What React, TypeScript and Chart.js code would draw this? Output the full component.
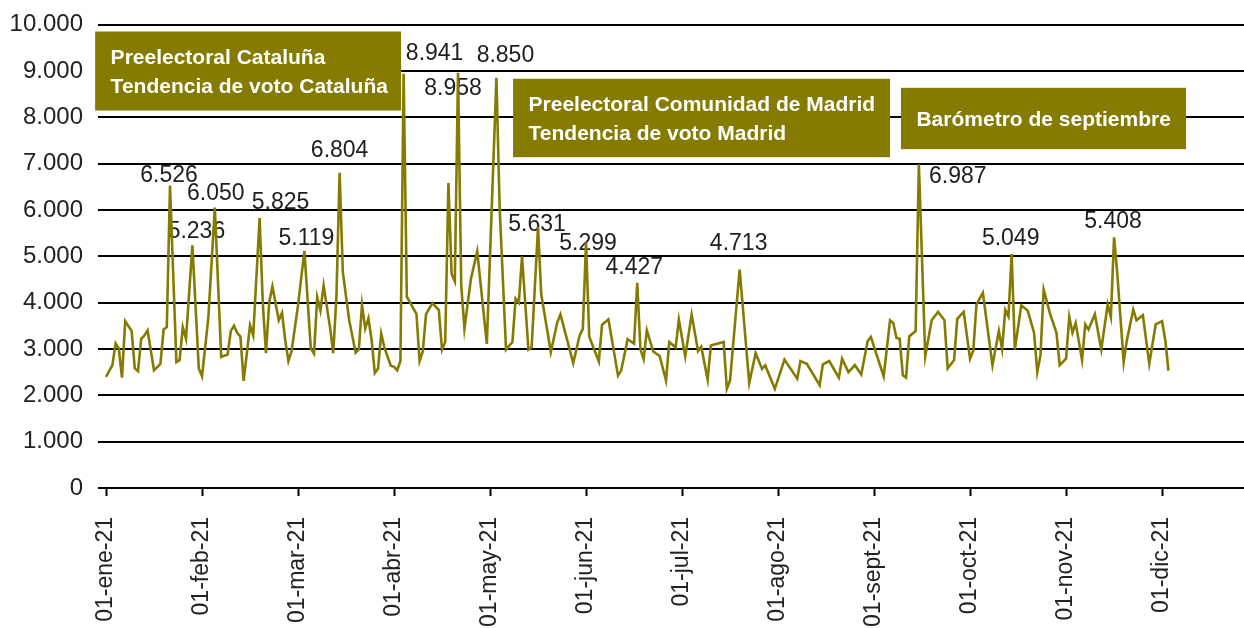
import { useEffect, useRef } from "react";
import { Chart, registerables } from "chart.js";

Chart.register(...registerables);

// ---------- data ----------
const MONTH_LABELS = [
  "01-ene-21", "01-feb-21", "01-mar-21", "01-abr-21", "01-may-21", "01-jun-21",
  "01-jul-21", "01-ago-21", "01-sept-21", "01-oct-21", "01-nov-21", "01-dic-21",
];
const DAYS_PER_MONTH = 30;

const DAYS = [
  0, 2, 3, 4, 5, 6, 8, 9, 10, 11, 12, 13, 15, 17, 18, 19, 20, 22, 23, 24, 25, 27, 29,
  30, 31, 32, 34, 36, 38, 39, 40, 41, 42, 43, 44, 45, 46, 48, 49, 50, 51, 52, 54, 55, 56, 57, 58,
  60, 62, 64, 65, 66, 67, 68, 70, 71, 72, 73, 74, 76, 78, 79, 80, 81, 82, 83, 84, 85, 86, 87, 89,
  90, 91, 92, 93, 94, 97, 98, 99, 100, 102, 104, 105, 106, 107, 108, 109, 110, 111, 112, 114, 116, 119,
  122, 123, 125, 127, 128, 129, 130, 132, 133, 135, 136, 139, 141, 142, 146, 148, 149,
  150, 151, 154, 155, 157, 160, 161, 163, 165, 166, 167, 168, 169, 171, 173, 175, 176, 178, 179,
  181, 183, 185, 186, 188, 189, 193, 194, 195, 198, 201, 203, 205, 206, 209,
  212, 216, 217, 219, 223, 224, 226, 229, 230, 232, 234, 236, 238, 239,
  243, 245, 246, 247, 248, 249, 250, 251, 253, 254, 256, 258, 260, 262, 263, 265, 266, 268,
  270, 271, 272, 274, 277, 279, 280, 281, 282, 283, 284, 286, 288, 290, 291, 292, 293, 295, 297, 298,
  300, 301, 302, 303, 305, 306, 307, 309, 311, 313, 314, 315, 316, 318, 319, 321, 322, 324, 326, 328,
  330, 331, 332,
];

const VISITS = [
  2400, 2650, 3120, 3010, 2380, 3600, 3390, 2580, 2520, 3220, 3290, 3400, 2540, 2680, 3420, 3470, 6526, 2720, 2760, 3470, 3220, 5236, 2580,
  2410, 3040, 3700, 6050, 2830, 2880, 3390, 3500, 3350, 3270, 2310, 2900, 3510, 3290, 5825, 3980, 2910, 4010, 4350, 3620, 3780, 3190, 2740, 2960,
  3940, 5119, 3010, 2900, 4120, 3830, 4370, 3470, 2910, 4120, 6804, 4660, 3620, 2920, 2990, 3950, 3440, 3660, 3190, 2480, 2580, 3330, 3030, 2640,
  2615, 2540, 2740, 8941, 4130, 3760, 2740, 2950, 3750, 3990, 3840, 2985, 3150, 6580, 4620, 4460, 8958, 4380, 3440, 4500, 5110, 3110,
  8850, 6060, 2985, 3150, 4085, 4000, 5000, 2985, 3035, 5631, 4180, 2935, 3570, 3745, 2695, 3290, 3435,
  5299, 3265, 2730, 3525, 3640, 2425, 2540, 3210, 3115, 4427, 2995, 2780, 3400, 2945, 2850, 2320, 3150, 3035, 3635,
  2840, 3745, 2955, 3050, 2340, 3075, 3150, 2140, 2320, 4713, 2265, 2910, 2570, 2645, 2140,
  2770, 2360, 2740, 2680, 2220, 2670, 2740, 2380, 2790, 2500, 2650, 2450, 3170, 3260,
  2410, 3620, 3560, 3240, 3220, 2430, 2380, 3270, 3390, 6987, 2840, 3620, 3800, 3620, 2580, 2760, 3650, 3800,
  2790, 2960, 3960, 4210, 2650, 3390, 3000, 3840, 3700, 5049, 2990, 3940, 3830, 3350, 2500, 2860, 4280, 3760, 3350, 2650,
  2790, 3690, 3350, 3560, 2760, 3530, 3420, 3750, 2990, 3960, 3690, 5408, 4630, 2720, 3190, 3850, 3620, 3730, 2680, 3530,
  3600, 3190, 2530,
];

// days whose value is written next to the peak
const PEAK_DAYS = [20, 27, 34, 48, 62, 73, 93, 110, 122, 135, 150, 166, 198, 254, 283, 315];

const ANNOTATION_TEXTS = [
  ["Preelectoral Cataluña", "Tendencia de voto Cataluña"],
  ["Preelectoral Comunidad de Madrid", "Tendencia de voto Madrid"],
  ["Barómetro de septiembre"],
];

// ---------- styles / layout ----------
const FONT = "'Liberation Sans', Arial, Helvetica, sans-serif";
const OLIVE = "#857b00";
const TEXT = "#222222";
const X_RANGE = { min: -2.5, max: 355.6 };
// label centre offsets (px) relative to the peak point
const PEAK_LABEL_OFFSETS = [
  [-1, -12], [4, -16], [1, -15.5], [21, -17.5], [2, -14.5], [0, -24], [31, -22], [-5, 14],
  [9, -24], [-1, -4], [2, -1], [-3, -17], [-1, -28], [39, 11], [-1, -17.5], [-1, -18],
];
// annotation boxes in axis units: [xFrom, xTo, yTop, yBottom]
const ANNOTATION_BOXES = [
  [-3.4, 92.2, 9851, 8145],
  [127.2, 245, 8831, 7139],
  [248.4, 337.5, 8636, 7312],
];

const fmt = (v: number) => String(Math.round(v)).replace(/\B(?=(\d{3})+(?!\d))/g, ".");

const overlayPlugin = {
  id: "overlay",
  beforeDatasetsDraw(chart: any) {
    const { ctx, scales } = chart;
    const x = scales.x;
    const y = scales.y;
    ctx.save();
    const size = 23;
    ctx.font = `${size}px ${FONT}`;
    ctx.fillStyle = "#1e1e1e";
    ctx.textAlign = "center";
    ctx.textBaseline = "alphabetic";
    PEAK_DAYS.forEach((d, i) => {
      const idx = DAYS.indexOf(d);
      const v = VISITS[idx];
      const [dx, dy] = PEAK_LABEL_OFFSETS[i];
      const px = x.getPixelForValue(d) + dx;
      const py = y.getPixelForValue(v) + dy + size * 0.358;
      ctx.fillText(fmt(v), px, py);
    });
    ctx.restore();
  },
  afterDatasetsDraw(chart: any) {
    const { ctx, scales } = chart;
    const x = scales.x;
    const y = scales.y;
    ctx.save();
    const size = 21;
    ctx.font = `bold ${size}px ${FONT}`;
    ctx.textAlign = "left";
    ctx.textBaseline = "alphabetic";
    ANNOTATION_BOXES.forEach((b, i) => {
      const x0 = x.getPixelForValue(b[0]);
      const x1 = x.getPixelForValue(b[1]);
      const y0 = y.getPixelForValue(b[2]);
      const y1 = y.getPixelForValue(b[3]);
      ctx.fillStyle = OLIVE;
      ctx.fillRect(x0, y0, x1 - x0, y1 - y0);
      ctx.fillStyle = "#ffffff";
      const lines = ANNOTATION_TEXTS[i];
      const cy = (y0 + y1) / 2;
      const lh = 28.6;
      lines.forEach((t, j) => {
        const ly = cy + (j - (lines.length - 1) / 2) * lh + size * 0.358;
        ctx.fillText(t, x0 + 15.5, ly);
      });
    });
    ctx.restore();
  },
};

export default function App() {
  const canvasRef = useRef<HTMLCanvasElement | null>(null);

  useEffect(() => {
    if (!canvasRef.current) return;
    const chart = new Chart(canvasRef.current, {
      type: "line",
      data: {
        datasets: [
          {
            data: DAYS.map((d, i) => ({ x: d, y: VISITS[i] })),
            borderColor: OLIVE,
            borderWidth: 2.6,
            pointRadius: 0,
            tension: 0,
            fill: false,
          },
        ],
      },
      options: {
        animation: false,
        responsive: true,
        maintainAspectRatio: false,
        layout: { padding: { top: 24, right: 0, bottom: 0, left: 0 } },
        plugins: { legend: { display: false }, tooltip: { enabled: false } },
        scales: {
          x: {
            type: "linear",
            min: X_RANGE.min,
            max: X_RANGE.max,
            afterBuildTicks: (s: any) => {
              s.ticks = MONTH_LABELS.map((_, i) => ({ value: i * DAYS_PER_MONTH }));
            },
            afterFit: (s: any) => {
              s.height = 140;
            },
            ticks: {
              autoSkip: false,
              minRotation: 90,
              maxRotation: 90,
              padding: 21,
              color: TEXT,
              font: { family: FONT, size: 23 },
              callback: (v: any) => MONTH_LABELS[Math.round(Number(v) / DAYS_PER_MONTH)] ?? "",
            },
            grid: {
              drawOnChartArea: false,
              drawTicks: true,
              tickLength: 8,
              tickColor: "#000",
              tickWidth: 2,
            },
            border: { display: false },
          },
          y: {
            min: 0,
            max: 10000,
            afterFit: (s: any) => {
              s.width = 98;
            },
            ticks: {
              stepSize: 1000,
              padding: 15,
              color: TEXT,
              font: { family: FONT, size: 24, lineHeight: 0.8 },
              callback: (v: any) => fmt(Number(v)),
            },
            grid: { color: "#000", lineWidth: 2, drawTicks: false },
            border: { display: false },
          },
        },
      },
      plugins: [overlayPlugin],
    } as any);
    return () => chart.destroy();
  }, []);

  return (
    <div style={{ position: "absolute", left: 0, top: 0, width: 1244, height: 628, background: "#fff" }}>
      <canvas ref={canvasRef} />
    </div>
  );
}
